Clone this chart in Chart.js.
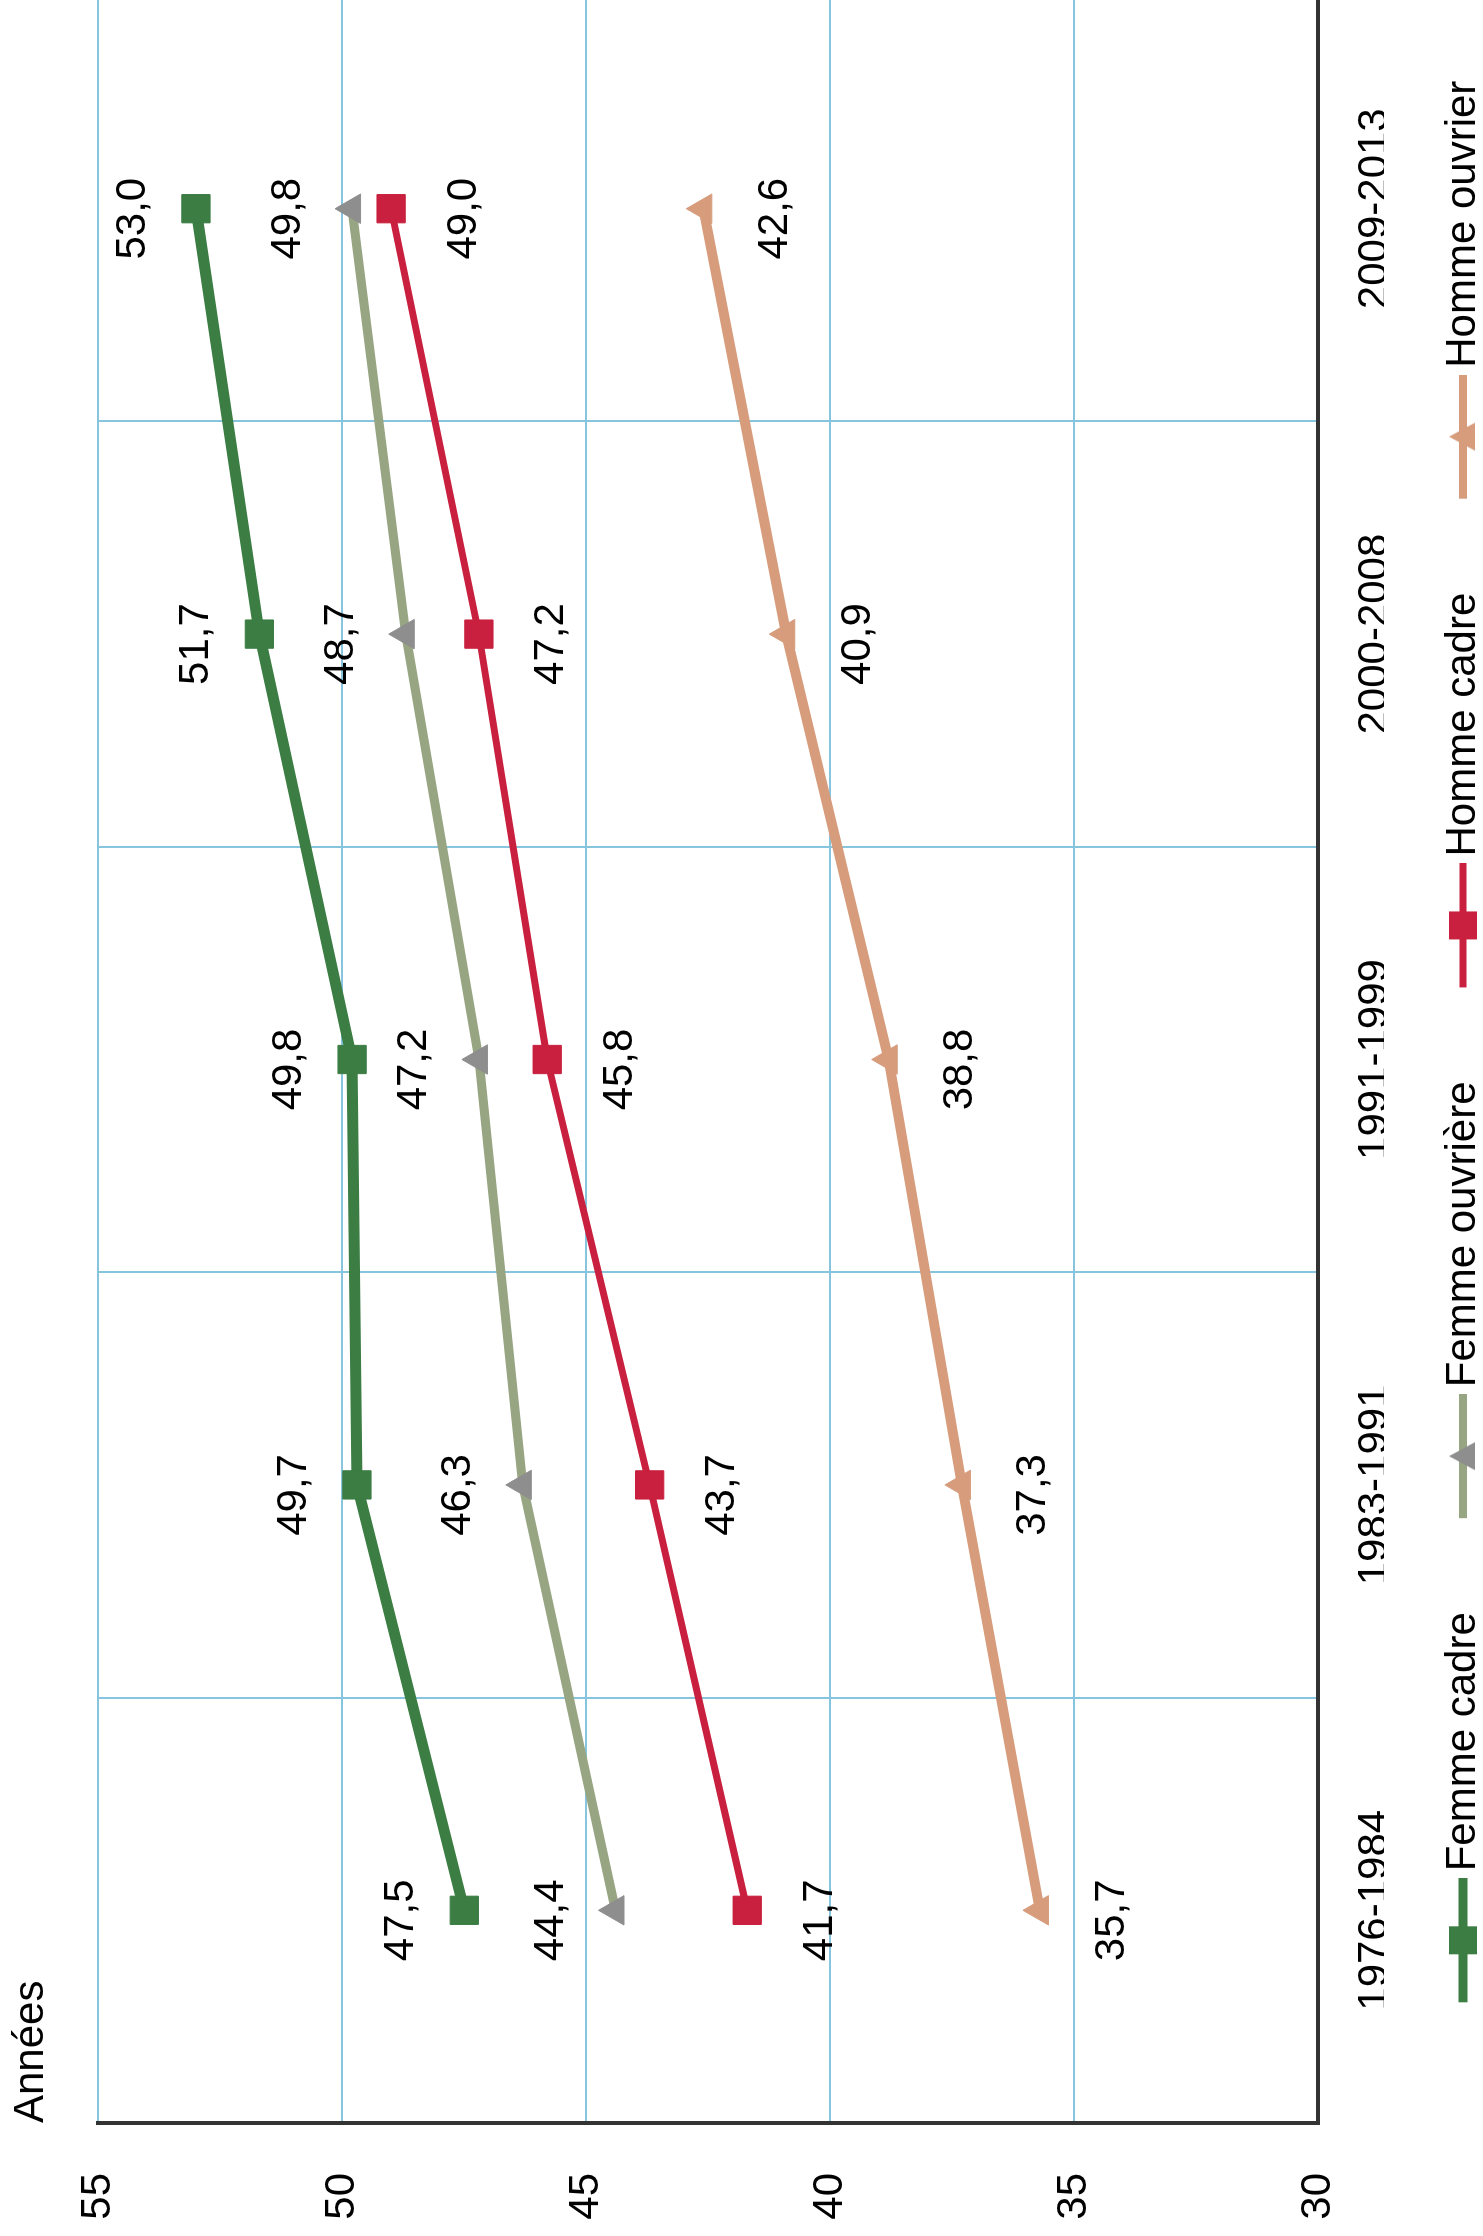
<!DOCTYPE html>
<html lang="fr">
<head>
<meta charset="utf-8">
<title>Années</title>
<script src="https://cdn.jsdelivr.net/npm/chart.js@4.4.1/dist/chart.umd.min.js"></script>
<style>
  html, body { margin: 0; padding: 0; background: #ffffff; }
  #wrap { position: relative; width: 1483px; height: 2236px; overflow: hidden; background: #ffffff; }
  #chart { position: absolute; left: 0; top: 0; transform-origin: 0 0;
           transform: translate(0px, 2236px) rotate(-90deg); }
</style>
</head>
<body>
<div id="wrap"><canvas id="chart" width="2261" height="1494" style="width:2261px;height:1494px"></canvas></div>
<script>
// ---- Data ----
const categories = ['1976-1984', '1983-1991', '1991-1999', '2000-2008', '2009-2013'];
const seriesNames = ['Femme cadre', 'Femme ouvrière', 'Homme cadre', 'Homme ouvrier'];
const femmeCadre = [47.5, 49.7, 49.8, 51.7, 53.0];
const femmeOuvriere = [44.4, 46.3, 47.2, 48.7, 49.8];
const hommeCadre = [41.7, 43.7, 45.8, 47.2, 49.0];
const hommeOuvrier = [35.7, 37.3, 38.8, 40.9, 42.6];
const axisTitle = 'Années';
const yMin = 30, yMax = 55, yStep = 5;

// ---- Styles ----
const FONT = '"Liberation Sans", Arial, Helvetica, sans-serif';
const GRID = '#87c5df';
const AXIS = '#333333';
const styles = [
  { line: '#3b7d43', marker: '#3b7d43', width: 11, shape: 'rect', radius: 20, legendW: 9, labelDy: -63 },
  { line: '#98a583', marker: '#8e8e8e', width: 9, shape: 'triangle', radius: 17, legendW: 8, labelDy: -64 },
  { line: '#c8203e', marker: '#c8203e', width: 7, shape: 'rect', radius: 20, legendW: 7, labelDy: 73 },
  { line: '#d69c7c', marker: '#d69c7c', width: 10, shape: 'triangle', radius: 17, legendW: 8, labelDy: 72 }
];
const LABEL_DX = -10;
const seriesData = [femmeCadre, femmeOuvriere, hommeCadre, hommeOuvrier];

Chart.defaults.font.family = FONT;
Chart.defaults.font.size = 42;
Chart.defaults.color = '#000000';

// legend symbols: line with marker (Excel style)
function legendImage(st) {
  const c = document.createElement('canvas');
  c.width = 174; c.height = 34;
  const g = c.getContext('2d');
  g.strokeStyle = st.line; g.lineWidth = st.legendW;
  g.beginPath(); g.moveTo(50, 17); g.lineTo(174, 17); g.stroke();
  g.fillStyle = st.marker;
  const cx = 112, cy = 17;
  if (st.shape === 'rect') {
    g.fillRect(cx - 14, cy - 14, 28, 28);
  } else {
    g.beginPath(); g.moveTo(cx, cy - 14); g.lineTo(cx + 14, cy + 12); g.lineTo(cx - 14, cy + 12); g.closePath(); g.fill();
  }
  return c;
}
const legendImgs = styles.map(legendImage);

const datasets = seriesData.map((d, i) => ({
  label: seriesNames[i],
  data: d,
  borderColor: styles[i].line,
  backgroundColor: styles[i].marker,
  borderWidth: styles[i].width,
  pointStyle: styles[i].shape,
  pointRadius: styles[i].radius,
  pointHoverRadius: styles[i].radius,
  pointBackgroundColor: styles[i].marker,
  pointBorderColor: styles[i].marker,
  pointBorderWidth: 1,
  tension: 0,
  fill: false
}));

const valueLabels = {
  id: 'valueLabels',
  afterDatasetsDraw(chart) {
    const ctx = chart.ctx;
    ctx.save();
    ctx.font = '42px ' + FONT;
    ctx.fillStyle = '#000000';
    ctx.textAlign = 'center';
    ctx.textBaseline = 'middle';
    chart.data.datasets.forEach((ds, i) => {
      const meta = chart.getDatasetMeta(i);
      meta.data.forEach((pt, j) => {
        const txt = ds.data[j].toFixed(1).replace('.', ',');
        ctx.fillText(txt, pt.x + LABEL_DX, pt.y + styles[i].labelDy);
      });
    });
    ctx.restore();
  }
};

new Chart(document.getElementById('chart'), {
  type: 'line',
  data: { labels: categories, datasets },
  options: {
    responsive: false,
    animation: false,
    layout: { padding: 0 },
    plugins: {
      tooltip: { enabled: false },
      title: {
        display: true, text: axisTitle, align: 'start', position: 'top', fullSize: false,
        color: '#000000', font: { size: 42, weight: 'normal', lineHeight: 1.2 },
        padding: { top: 6, bottom: 42 }
      },
      legend: {
        display: true, position: 'bottom', align: 'center', fullSize: false,
        labels: {
          color: '#000000', font: { size: 42 },
          usePointStyle: true, pointStyleWidth: 146, padding: 58,
          generateLabels(chart) {
            const items = Chart.defaults.plugins.legend.labels.generateLabels(chart);
            items.forEach((it, i) => { it.pointStyle = legendImgs[i]; it.fontColor = '#000000'; });
            return items;
          }
        }
      }
    },
    scales: {
      x: {
        type: 'category',
        offset: true,
        grid: { display: true, offset: true, color: GRID, lineWidth: 2, drawTicks: false },
        border: { display: true, color: AXIS, width: 4 },
        ticks: { color: '#000000', font: { size: 42 }, padding: 32, maxRotation: 0, autoSkip: false },
        afterFit(scale) { scale.height = 66; }
      },
      y: {
        min: yMin, max: yMax,
        grid: { display: true, color: GRID, lineWidth: 2, drawTicks: false },
        border: { display: true, color: AXIS, width: 4 },
        ticks: { stepSize: yStep, color: '#000000', font: { size: 42 }, padding: 50 },
        afterFit(scale) { scale.width = 113; }
      }
    }
  },
  plugins: [valueLabels]
});
</script>
</body>
</html>
